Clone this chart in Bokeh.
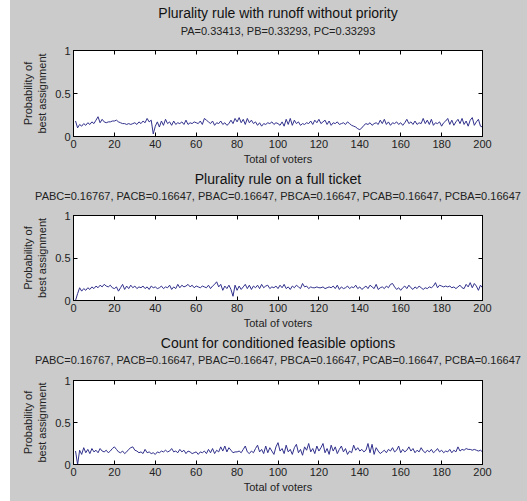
from bokeh.plotting import figure
from bokeh.models import LinearAxis, Spacer
from bokeh.layouts import column, row
from bokeh.embed import file_html
from bokeh.resources import INLINE

voters = list(range(1, 201))

runoff = [
    0.18, 0.10, 0.14, 0.12, 0.15, 0.13, 0.16, 0.14, 0.17, 0.15,
    0.19, 0.23, 0.16, 0.20, 0.17, 0.16, 0.17, 0.17, 0.18, 0.18,
    0.19, 0.17, 0.16, 0.15, 0.15, 0.14, 0.15, 0.14, 0.15, 0.16,
    0.14, 0.17, 0.15, 0.18, 0.16, 0.21, 0.17, 0.19, 0.03, 0.12,
    0.17, 0.11, 0.18, 0.13, 0.20, 0.15, 0.17, 0.13, 0.18, 0.14,
    0.16, 0.15, 0.17, 0.14, 0.19, 0.14, 0.16, 0.15, 0.17, 0.16,
    0.15, 0.18, 0.14, 0.21, 0.19, 0.17, 0.15, 0.18, 0.13, 0.16,
    0.15, 0.18, 0.14, 0.16, 0.13, 0.15, 0.19, 0.15, 0.21, 0.17,
    0.22, 0.16, 0.20, 0.14, 0.21, 0.16, 0.19, 0.15, 0.17, 0.13,
    0.16, 0.12, 0.15, 0.14, 0.16, 0.15, 0.17, 0.14, 0.16, 0.15,
    0.13, 0.17, 0.12, 0.20, 0.14, 0.21, 0.13, 0.19, 0.15, 0.17,
    0.13, 0.15, 0.14, 0.16, 0.15, 0.18, 0.14, 0.19, 0.16, 0.20,
    0.15, 0.17, 0.19, 0.14, 0.18, 0.13, 0.16, 0.15, 0.17, 0.14,
    0.15, 0.16, 0.14, 0.17, 0.15, 0.13, 0.12, 0.11, 0.09, 0.08,
    0.10, 0.13, 0.15, 0.14, 0.16, 0.13, 0.15, 0.16, 0.14, 0.19,
    0.15, 0.20, 0.14, 0.17, 0.13, 0.16, 0.15, 0.17, 0.14, 0.16,
    0.13, 0.16, 0.20, 0.15, 0.17, 0.14, 0.18, 0.14, 0.16, 0.15,
    0.21, 0.15, 0.19, 0.14, 0.20, 0.13, 0.16, 0.15, 0.17, 0.12,
    0.16, 0.18, 0.21, 0.14, 0.19, 0.13, 0.17, 0.20, 0.15, 0.21,
    0.14, 0.18, 0.12, 0.19, 0.22, 0.13, 0.17, 0.20, 0.12, 0.11,
]

full_ticket = [
    0.00, 0.08, 0.15, 0.11, 0.14, 0.12, 0.15, 0.13, 0.16, 0.14,
    0.17, 0.15, 0.18, 0.16, 0.19, 0.17, 0.16, 0.18, 0.15, 0.14,
    0.16, 0.11, 0.15, 0.19, 0.13, 0.17, 0.14, 0.18, 0.15, 0.17,
    0.14, 0.16, 0.15, 0.17, 0.14, 0.16, 0.13, 0.17, 0.15, 0.16,
    0.14, 0.15, 0.17, 0.14, 0.16, 0.15, 0.18, 0.13, 0.16, 0.14,
    0.19, 0.15, 0.18, 0.16, 0.17, 0.19, 0.16, 0.18, 0.15, 0.17,
    0.16, 0.15, 0.17, 0.16, 0.15, 0.18, 0.14, 0.17, 0.19, 0.22,
    0.16, 0.19, 0.12, 0.17, 0.14, 0.18, 0.13, 0.05, 0.18, 0.12,
    0.17, 0.13, 0.16, 0.19, 0.14, 0.18, 0.13, 0.17, 0.15, 0.18,
    0.14, 0.19, 0.15, 0.17, 0.18, 0.14, 0.16, 0.15, 0.17, 0.14,
    0.18, 0.15, 0.19, 0.14, 0.16, 0.13, 0.17, 0.15, 0.18, 0.16,
    0.14, 0.20, 0.16, 0.17, 0.14, 0.16, 0.15, 0.15, 0.16, 0.15,
    0.15, 0.16, 0.14, 0.15, 0.16, 0.15, 0.17, 0.14, 0.18, 0.13,
    0.16, 0.14, 0.15, 0.17, 0.14, 0.16, 0.15, 0.18, 0.14, 0.16,
    0.13, 0.15, 0.17, 0.14, 0.18, 0.16, 0.14, 0.19, 0.13, 0.15,
    0.16, 0.14, 0.17, 0.15, 0.19, 0.20, 0.16, 0.13, 0.15, 0.12,
    0.15, 0.17, 0.14, 0.18, 0.15, 0.13, 0.16, 0.14, 0.17, 0.15,
    0.13, 0.15, 0.14, 0.16, 0.15, 0.17, 0.21, 0.15, 0.18, 0.17,
    0.16, 0.17, 0.16, 0.17, 0.15, 0.16, 0.14, 0.16, 0.18, 0.15,
    0.14, 0.19, 0.16, 0.21, 0.15, 0.20, 0.17, 0.12, 0.18, 0.15,
]

conditioned = [
    0.16, 0.00, 0.17, 0.12, 0.20, 0.14, 0.18, 0.13, 0.19, 0.15,
    0.17, 0.14, 0.19, 0.16, 0.15, 0.17, 0.14, 0.16, 0.19, 0.21,
    0.18, 0.15, 0.14, 0.16, 0.13, 0.15, 0.18, 0.20, 0.21, 0.17,
    0.16, 0.14, 0.15, 0.13, 0.18, 0.14, 0.15, 0.13, 0.14, 0.12,
    0.15, 0.14, 0.16, 0.15, 0.17, 0.15, 0.16, 0.19, 0.15, 0.16,
    0.14, 0.18, 0.15, 0.17, 0.13, 0.16, 0.15, 0.13, 0.14, 0.15,
    0.12, 0.15, 0.14, 0.16, 0.13, 0.18, 0.14, 0.19, 0.13, 0.17,
    0.15, 0.21, 0.16, 0.22, 0.15, 0.20, 0.17, 0.14, 0.15, 0.15,
    0.16, 0.14, 0.18, 0.22, 0.15, 0.13, 0.16, 0.14, 0.19, 0.23,
    0.15, 0.18, 0.13, 0.22, 0.14, 0.20, 0.16, 0.12, 0.21, 0.26,
    0.16, 0.19, 0.13, 0.23, 0.15, 0.18, 0.12, 0.20, 0.24, 0.14,
    0.18, 0.11, 0.21, 0.17, 0.25, 0.15, 0.19, 0.13, 0.22, 0.16,
    0.20, 0.25, 0.14, 0.19, 0.12, 0.23, 0.16, 0.21, 0.13, 0.18,
    0.22, 0.15, 0.19, 0.12, 0.16, 0.14, 0.23, 0.17, 0.20, 0.16,
    0.18, 0.15, 0.17, 0.25, 0.14, 0.24, 0.12, 0.20, 0.16, 0.13,
    0.15, 0.17, 0.14, 0.18, 0.16, 0.20, 0.15, 0.17, 0.22, 0.14,
    0.18, 0.15, 0.17, 0.21, 0.16, 0.19, 0.14, 0.17, 0.15, 0.20,
    0.16, 0.14, 0.17, 0.15, 0.18, 0.14, 0.16, 0.19, 0.15, 0.17,
    0.14, 0.16, 0.15, 0.18, 0.14, 0.17, 0.15, 0.21, 0.16, 0.18,
    0.17, 0.19, 0.18, 0.18, 0.17, 0.18, 0.17, 0.16, 0.17, 0.15,
]

x_ticks = [0, 20, 40, 60, 80, 100, 120, 140, 160, 180, 200]
y_ticks = [0, 0.5, 1]
y_tick_labels = {0: "0", 0.5: "0.5", 1: "1"}

titles = [
    "Plurality rule with runoff without priority",
    "Plurality rule on a full ticket",
    "Count for conditioned feasible options",
]
subtitles = [
    "PA=0.33413, PB=0.33293, PC=0.33293",
    "PABC=0.16767, PACB=0.16647, PBAC=0.16647, PBCA=0.16647, PCAB=0.16647, PCBA=0.16647",
    "PABC=0.16767, PACB=0.16647, PBAC=0.16647, PBCA=0.16647, PCAB=0.16647, PCBA=0.16647",
]
x_label = "Total of voters"
y_label = "Probability of\nbest assignment"

FONT = "Liberation Sans"
BG = "#cbcbcb"
LINE = "#30308c"
FRAME_H = 86


def style_axis(ax, show_labels):
    ax.axis_line_color = "black"
    ax.major_tick_line_color = "black"
    ax.major_tick_in = 4
    ax.major_tick_out = 0
    ax.minor_tick_line_color = None
    ax.major_label_text_font = FONT
    ax.major_label_text_color = "#222222"
    ax.axis_label_text_font = FONT
    ax.axis_label_text_font_style = "normal"
    ax.axis_label_text_color = "#222222"
    ax.axis_label_text_font_size = "11px"
    if show_labels:
        ax.major_label_text_font_size = "11px"
        ax.major_label_standoff = 3
    else:
        ax.major_label_text_font_size = "1px"
        ax.major_label_text_color = None
        ax.major_label_standoff = 0


def make(values, title, subtitle, top, bottom, sub_standoff, title_standoff):
    p = figure(width=517, height=top + FRAME_H + bottom, output_backend="svg",
               toolbar_location=None, x_range=(0, 200), y_range=(0, 1))
    p.min_border_left = 63
    p.min_border_right = 45
    p.min_border_top = top
    p.min_border_bottom = bottom
    p.border_fill_color = BG
    p.background_fill_color = "white"
    p.outline_line_color = "black"
    p.grid.grid_line_color = None

    p.xaxis.ticker = x_ticks
    p.yaxis.ticker = y_ticks
    p.yaxis.major_label_overrides = y_tick_labels
    style_axis(p.xaxis[0], True)
    style_axis(p.yaxis[0], True)
    p.xaxis.axis_label = x_label
    p.xaxis.axis_label_standoff = 2
    p.yaxis.axis_label = y_label
    p.yaxis.axis_label_standoff = 4

    right = LinearAxis(ticker=y_ticks)
    style_axis(right, False)
    p.add_layout(right, "right")

    # top axis: mirrored inward ticks, its label carries the probabilities line
    topax = LinearAxis(ticker=x_ticks, axis_label=subtitle)
    style_axis(topax, False)
    topax.axis_label_standoff = sub_standoff
    p.add_layout(topax, "above")

    p.title.text = title
    p.title.align = "center"
    p.title.text_font = FONT
    p.title.text_font_size = "14px"
    p.title.text_font_style = "normal"
    p.title.text_color = "#111111"
    p.title.standoff = title_standoff

    p.line(voters, values, line_color=LINE, line_width=1)
    return p


f1 = make(runoff, titles[0], subtitles[0], 50, 32, 14, 2)
f2 = make(full_ticket, titles[1], subtitles[1], 46, 32, 14, 0)
f3 = make(conditioned, titles[2], subtitles[2], 46, 37, 15, 0)

col = column(f1, f2, f3, spacing=0, styles={"background-color": BG})
layout = row(Spacer(width=10, height=501), col, spacing=0)

open("out.html", "w").write(file_html(layout, INLINE))
